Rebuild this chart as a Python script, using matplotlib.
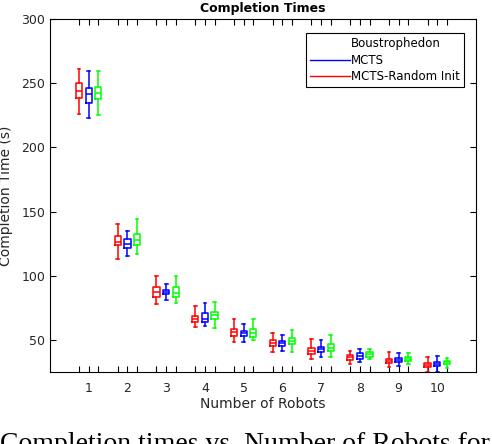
import matplotlib
matplotlib.use("Agg")
import matplotlib.pyplot as plt
import numpy as np

# number of robots
robots = [1, 2, 3, 4, 5, 6, 7, 8, 9, 10]

# box stats per robot count: [whisker low, q1, median, q3, whisker high]
rand_init = [  # red
    [226, 238.7, 244.2, 249.9, 260.8],
    [113, 124, 126, 131, 140],
    [78, 83.7, 87.4, 91, 100],
    [60.4, 64.3, 66.4, 69, 76.7],
    [48, 53.3, 56, 58.3, 66.6],
    [40.9, 45.3, 47.9, 49.8, 55.2],
    [35, 39.1, 41.4, 43.3, 50.8],
    [31.1, 34.4, 36.5, 38.3, 41.7],
    [29.2, 31.8, 33.6, 35, 40.4],
    [25, 28.8, 30.3, 31.8, 37],
]
mcts = [  # blue
    [222.6, 234.3, 241.3, 246.5, 259.8],
    [115.4, 121.4, 124.5, 128.7, 135],
    [81.2, 85.8, 87.6, 89, 93.9],
    [61.1, 63.8, 66.1, 70.8, 78.6],
    [48.7, 52.9, 55.2, 57, 62.7],
    [41.7, 45.3, 47.4, 49.2, 53.9],
    [36.5, 40.4, 42.8, 44.3, 50],
    [33, 35.4, 37.5, 39.6, 42.8],
    [30, 32.6, 34.4, 36.2, 39.6],
    [25, 29.5, 31.3, 32.9, 37.5],
]
boustro = [  # green
    [225.5, 238, 242.4, 246.8, 259.8],
    [116.7, 124, 127.9, 132.3, 144],
    [79, 83.7, 86.4, 91, 100],
    [59.6, 66.4, 69.2, 72, 79.6],
    [50, 52.6, 55.7, 58.3, 66.1],
    [40.9, 46.7, 49.5, 51.8, 57.8],
    [37, 41, 44, 47, 53.9],
    [35.5, 37, 38.8, 40.8, 43],
    [31.1, 33.4, 35.4, 37, 39.6],
    [28, 31.1, 32.6, 33.9, 36.2],
]

fig = plt.figure(figsize=(4.92, 4.44), dpi=100)
ax = fig.add_axes([0.1016, 0.1622, 0.8659, 0.7950])

series = [(rand_init, "#ff0000", -0.25), (mcts, "#0000ff", 0.0), (boustro, "#00ff00", 0.25)]
side_ticks = []
for data, col, off in series:
    stats = []
    for row in data:
        lo, q1, med, q3, hi = row
        stats.append(dict(whislo=lo, q1=q1, med=med, q3=q3, whishi=hi, fliers=[]))
    pos = [r + off for r in robots]
    if off != 0:
        side_ticks += pos
    ax.bxp(stats, positions=pos, widths=0.16, showfliers=False, manage_ticks=False,
           boxprops=dict(color=col, lw=1.1),
           medianprops=dict(color=col, lw=1.1),
           whiskerprops=dict(color=col, lw=1.1),
           capprops=dict(color=col, lw=1.1), capwidths=0.07)

ax.set_xlim(0, 11)
ax.set_ylim(25, 300)
ax.set_xticks(robots)
ax.set_xticklabels([str(r) for r in robots])
ax.set_xticks(sorted(side_ticks), minor=True)
ax.set_yticks([50, 100, 150, 200, 250, 300])
ax.tick_params(which="both", direction="in", top=True, right=True, labelsize=9,
               labelcolor="#262626", length=4, width=0.8)
ax.tick_params(axis="x", pad=7)
for s in ax.spines.values():
    s.set_linewidth(0.8)

ax.set_xlabel("Number of Robots", fontsize=10, color="#262626", labelpad=2)
ax.set_ylabel("Completion Time (s)", fontsize=10, color="#262626", labelpad=6)
ax.set_title("Completion Times", fontsize=9, fontweight="bold", pad=5)

h0, = ax.plot([], [], color="white")
h1, = ax.plot([], [], color="#0000ff", lw=1)
h2, = ax.plot([], [], color="#ff0000", lw=1)
leg = ax.legend([h0, h1, h2], ["Boustrophedon", "MCTS", "MCTS-Random Init"],
                loc="upper right", bbox_to_anchor=(0.972, 0.96), fontsize=8.5,
                fancybox=False, framealpha=1, edgecolor="black", handlelength=3.4,
                handletextpad=0.1, borderpad=0.35, labelspacing=0.3, borderaxespad=0)
leg.get_frame().set_linewidth(0.8)

fig.text(0.0, 1 - 432 / 444, "Completion times vs. Number of Robots for",
         fontsize=20, family="Liberation Serif", va="top", ha="left")

fig.savefig("out.png", dpi=100)
